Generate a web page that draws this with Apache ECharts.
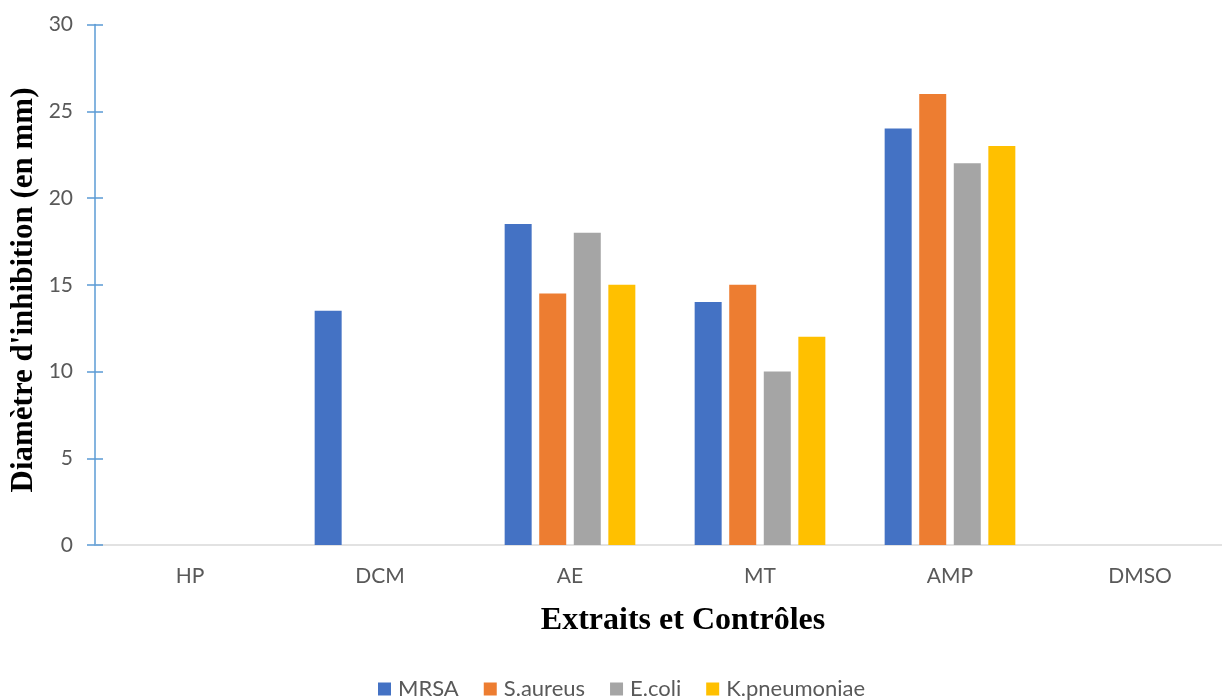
<!DOCTYPE html>
<html>
<head>
<meta charset="utf-8">
<script src="https://cdn.jsdelivr.net/npm/echarts@6/dist/echarts.min.js"></script>
<style>
  html, body { margin: 0; padding: 0; background: #fff; }
  #chart { width: 1222px; height: 700px; }
</style>
</head>
<body>
<div id="chart"></div>
<script>
// Zones d'inhibition (mm) par extrait / contrôle
const categories = ['HP', 'DCM', 'AE', 'MT', 'AMP', 'DMSO'];
const seriesNames = ['MRSA', 'S.aureus', 'E.coli', 'K.pneumoniae'];
const mrsa = [0, 13.5, 18.5, 14, 24, 0];
const sAureus = [0, 0, 14.5, 15, 26, 0];
const eColi = [0, 0, 18, 10, 22, 0];
const kPneumoniae = [0, 0, 15, 12, 23, 0];
const yTicks = [0, 5, 10, 15, 20, 25, 30];

const colors = ['#4472C4', '#ED7D31', '#A5A5A5', '#FFC000'];
const values = [mrsa, sAureus, eColi, kPneumoniae];
const labelFont = 'Lato, "Open Sans", sans-serif';

const chart = echarts.init(document.getElementById('chart'));

const yBase = {
  type: 'value',
  min: yTicks[0],
  max: yTicks[yTicks.length - 1],
  interval: yTicks[1] - yTicks[0],
  splitLine: { show: false }
};

chart.setOption({
  animation: false,
  color: colors,
  // the plot runs a little past the right edge of the canvas
  grid: { left: 95, width: 1140, top: 24.5, height: 520.5, containLabel: false, outerBoundsMode: 'none' },
  legend: {
    data: seriesNames,
    left: 373,
    top: 673,
    itemWidth: 13,
    itemHeight: 13,
    itemGap: 25,
    icon: 'rect',
    textStyle: { color: '#595959', fontSize: 22, fontFamily: labelFont, padding: [0, 0, 0, 2] }
  },
  xAxis: {
    type: 'category',
    data: categories,
    axisLine: { lineStyle: { color: '#D9D9D9', width: 1.5 } },
    axisTick: { show: false },
    axisLabel: { color: '#595959', fontSize: 21, fontFamily: labelFont, margin: 21 }
  },
  yAxis: [
    Object.assign({}, yBase, {
      axisLine: { show: true, lineStyle: { color: '#5B9BD5', width: 1.5 } },
      axisTick: { show: true, length: 8, lineStyle: { color: '#5B9BD5', width: 1.5 } },
      axisLabel: { color: '#595959', fontSize: 21, fontFamily: labelFont, margin: 22 }
    }),
    Object.assign({}, yBase, {
      position: 'left',
      axisLine: { show: false },
      axisTick: { show: true, inside: true, length: 8, lineStyle: { color: '#5B9BD5', width: 1.5 } },
      axisLabel: { show: false }
    })
  ],
  series: seriesNames.map((name, i) => ({
    name: name,
    type: 'bar',
    data: values[i],
    barWidth: 27,
    barGap: '28%',
    itemStyle: { color: colors[i] }
  })),
  graphic: [
    {
      type: 'text',
      x: 683,
      y: 621,
      style: {
        text: 'Extraits et Contrôles',
        font: 'bold 32px "Liberation Serif", "Times New Roman", serif',
        fill: '#000',
        align: 'center',
        verticalAlign: 'middle'
      }
    },
    {
      type: 'text',
      x: 24,
      y: 290,
      rotation: Math.PI / 2,
      style: {
        text: "Diamètre d'inhibition (en mm)",
        font: 'bold 31px "Liberation Serif", "Times New Roman", serif',
        fill: '#000',
        align: 'center',
        verticalAlign: 'middle'
      }
    }
  ]
});
</script>
</body>
</html>
